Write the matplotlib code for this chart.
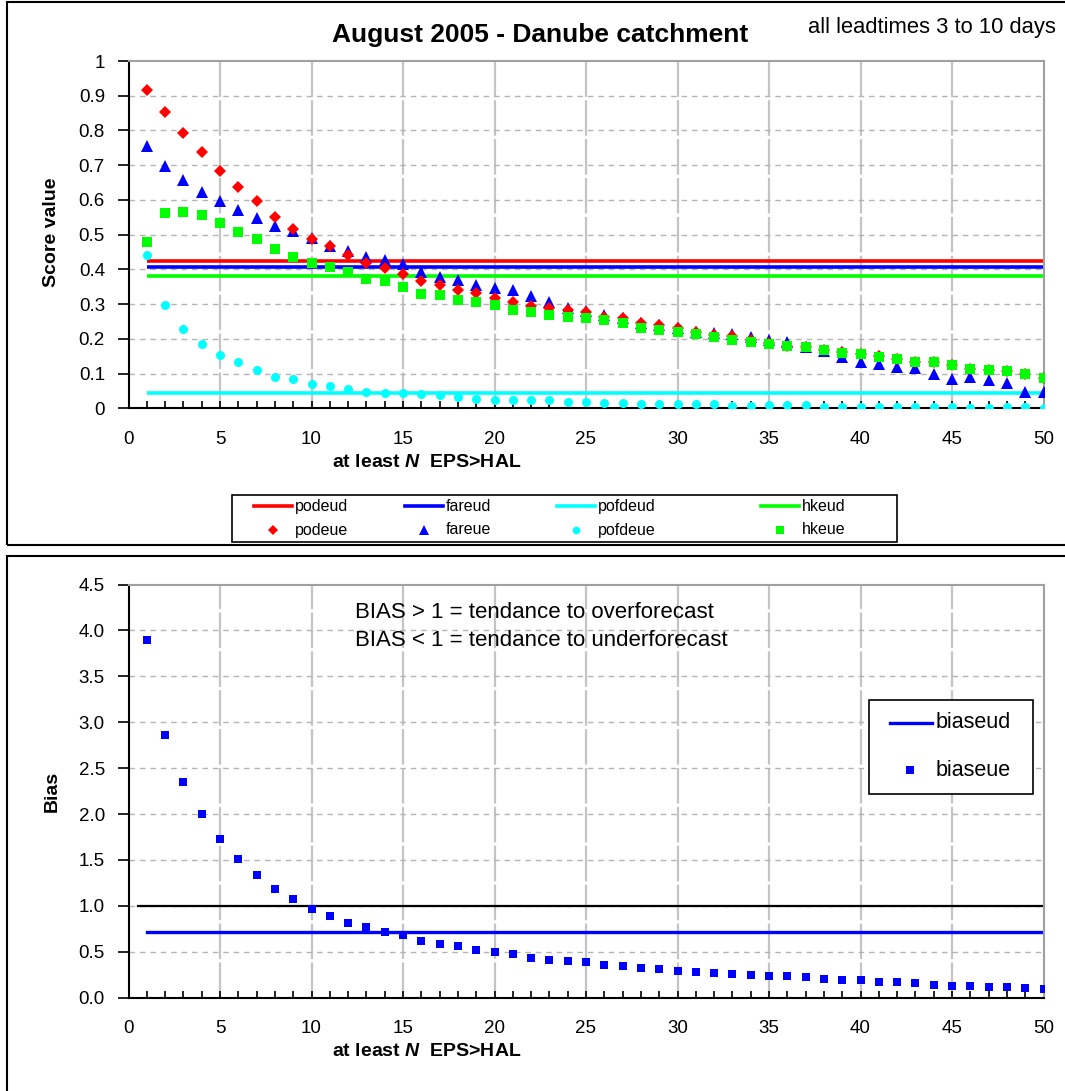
#!/usr/bin/env python3
"""
Danube catchment EPS verification scores (August 2005)
Dependencies: matplotlib, numpy
"""

import matplotlib
matplotlib.use("Agg")
import matplotlib.pyplot as plt
import numpy as np
from matplotlib.lines import Line2D
from matplotlib.patches import Rectangle
from matplotlib.ticker import MultipleLocator, FuncFormatter

# ---- data -------------------------------------------------------------
n_members = np.arange(1, 51)

podeue = [0.917, 0.853, 0.793, 0.739, 0.684, 0.636, 0.597, 0.552, 0.516, 0.488,
          0.468, 0.442, 0.418, 0.404, 0.386, 0.367, 0.354, 0.341, 0.331, 0.318,
          0.307, 0.295, 0.288, 0.283, 0.276, 0.264, 0.259, 0.245, 0.240, 0.232,
          0.221, 0.211, 0.207, 0.197, 0.189, 0.180, 0.176, 0.169, 0.162, 0.157,
          0.150, 0.142, 0.134, 0.132, 0.124, 0.113, 0.110, 0.107, 0.098, 0.086]
fareue = [0.756, 0.698, 0.658, 0.624, 0.598, 0.572, 0.549, 0.525, 0.510, 0.490,
          0.468, 0.452, 0.437, 0.426, 0.416, 0.393, 0.378, 0.368, 0.355, 0.345,
          0.341, 0.322, 0.305, 0.289, 0.281, 0.270, 0.259, 0.245, 0.240, 0.232,
          0.221, 0.218, 0.214, 0.205, 0.197, 0.190, 0.176, 0.166, 0.149, 0.134,
          0.128, 0.118, 0.115, 0.099, 0.085, 0.089, 0.082, 0.074, 0.046, 0.046]
pofdeue = [0.441, 0.296, 0.228, 0.184, 0.154, 0.132, 0.110, 0.091, 0.084, 0.071,
           0.063, 0.055, 0.048, 0.043, 0.043, 0.040, 0.037, 0.032, 0.028, 0.024,
           0.024, 0.024, 0.024, 0.019, 0.019, 0.015, 0.015, 0.012, 0.012, 0.012,
           0.012, 0.012, 0.008, 0.008, 0.009, 0.009, 0.009, 0.005, 0.005, 0.005,
           0.005, 0.005, 0.005, 0.005, 0.005, 0.002, 0.002, 0.003, 0.003, 0.002]
hkeue = [0.479, 0.561, 0.565, 0.557, 0.533, 0.509, 0.488, 0.460, 0.436, 0.417,
         0.408, 0.393, 0.373, 0.366, 0.348, 0.329, 0.325, 0.312, 0.305, 0.296,
         0.284, 0.277, 0.269, 0.264, 0.261, 0.253, 0.245, 0.232, 0.226, 0.221,
         0.213, 0.205, 0.197, 0.192, 0.185, 0.178, 0.176, 0.168, 0.160, 0.157,
         0.149, 0.141, 0.132, 0.132, 0.124, 0.112, 0.110, 0.107, 0.098, 0.088]

# deterministic (EUD) scores, constant over N
podeud = 0.425
fareud = 0.408
pofdeud = 0.043
hkeud = 0.380

biaseue = [3.896, 2.865, 2.349, 2.001, 1.728, 1.514, 1.340, 1.184, 1.075, 0.966,
           0.890, 0.817, 0.770, 0.712, 0.683, 0.621, 0.588, 0.559, 0.515, 0.493,
           0.475, 0.431, 0.413, 0.402, 0.384, 0.355, 0.348, 0.326, 0.308, 0.293,
           0.275, 0.264, 0.261, 0.250, 0.236, 0.236, 0.221, 0.203, 0.192, 0.192,
           0.174, 0.174, 0.156, 0.141, 0.127, 0.127, 0.112, 0.112, 0.105, 0.098]
biaseud = 0.72
bias_ref = 1.0

W, H = 1065, 1091
FONT = "Liberation Sans"

plt.rcParams["font.family"] = FONT
plt.rcParams["mathtext.fontset"] = "custom"
plt.rcParams["mathtext.it"] = FONT + ":italic:bold"
plt.rcParams["mathtext.rm"] = FONT + ":bold"


def fx(x):
    return x / W


def fy(y):
    return 1 - y / H


def style_axes(ax, ymax, ystep, yfmt):
    ax.set_xlim(0, 50)
    ax.set_ylim(0, ymax)
    ax.xaxis.set_major_locator(MultipleLocator(5))
    ax.xaxis.set_minor_locator(MultipleLocator(1))
    ax.yaxis.set_major_locator(MultipleLocator(ystep))
    ax.yaxis.set_major_formatter(FuncFormatter(yfmt))
    ax.tick_params(axis="x", which="both", direction="in", length=5, width=1.2,
                   pad=16, labelsize=13.5, top=False)
    ax.tick_params(axis="y", direction="out", length=8, width=1.2, pad=9,
                   labelsize=13.5, right=False)

    # vertical grid every 5, horizontal grid at each y tick
    for xv in np.arange(5, 50, 5):
        ax.axvline(xv, color="#c4c4c4", lw=1.6, ls=(0, (16, 1.5)), zorder=0)
    for yv in np.arange(ystep, ymax - 1e-9, ystep):
        ax.axhline(yv, color="#b4b4b4", lw=1.0, ls=(0, (4, 3.5)), zorder=0)

    for side in ("left", "bottom"):
        ax.spines[side].set_color("black")
        ax.spines[side].set_linewidth(1.5)
    for side in ("top", "right"):
        ax.spines[side].set_color("#a0a0a0")
        ax.spines[side].set_linewidth(1.5)


def create_figure():
    fig = plt.figure(figsize=(W / 100, H / 100), dpi=100)

    # outer frames around each panel
    for (y0, y1) in [(2, 545), (556, 1100)]:
        fig.add_artist(Rectangle((fx(7), fy(y1)), fx(1080) - fx(7), fy(y0) - fy(y1),
                                 transform=fig.transFigure, fill=False,
                                 edgecolor="black", lw=1.5))

    # ---------------- top panel: scores ----------------
    ax1 = fig.add_axes([fx(128.5), fy(408.3), fx(1043.5) - fx(128.5), fy(61) - fy(408.3)])
    style_axes(ax1, 1.0, 0.1, lambda v, p: f"{v:g}")

    score_lines = [(podeud, "#ff0000"), (fareud, "#0000ff"),
                   (pofdeud, "#00ffff"), (hkeud, "#00ff00")]
    for val, col in score_lines:
        ax1.plot([1, 50], [val, val], color=col, lw=2.6, solid_capstyle="butt", zorder=2)

    ax1.plot(n_members, fareue, ls="none", marker="^", ms=8, color="#0000ff", mew=0, zorder=3)
    ax1.plot(n_members, podeue, ls="none", marker="D", ms=6.5, color="#ff0000", mew=0, zorder=3)
    ax1.plot(n_members, pofdeue, ls="none", marker="o", ms=6.5, color="#00ffff", mew=0, zorder=3)
    ax1.plot(n_members, hkeue, ls="none", marker="s", ms=6.5, color="#00ff00", mew=0, zorder=3)

    fig.text(fx(540), fy(35), "August 2005 - Danube catchment", ha="center", va="center",
             fontsize=19, fontweight="bold")
    fig.text(fx(808), fy(27), "all leadtimes 3 to 10 days", ha="left", va="center",
             fontsize=15.8)
    fig.text(fx(52), fy(232), "Score value", rotation=90, ha="center", va="center",
             fontsize=14, fontweight="bold")
    fig.text(fx(427), fy(463), "at least $N$  EPS>HAL", ha="center", va="center",
             fontsize=14, fontweight="bold")

    # legend box below the top panel
    fig.add_artist(Rectangle((fx(232), fy(542)), fx(897) - fx(232), fy(495) - fy(542),
                             transform=fig.transFigure, facecolor="white",
                             edgecolor="black", lw=1.2))
    col_x = [254, 405, 557, 761]
    names_d = ["podeud", "fareud", "pofdeud", "hkeud"]
    names_e = ["podeue", "fareue", "pofdeue", "hkeue"]
    markers = [("D", 6), ("^", 8), ("o", 6.5), ("s", 6.5)]
    for i, (x0, (_, col)) in enumerate(zip(col_x, score_lines)):
        fig.add_artist(Line2D([fx(x0), fx(x0 + 38)], [fy(506), fy(506)],
                              transform=fig.transFigure, color=col, lw=2.6))
        fig.text(fx(x0 + 41), fy(506), names_d[i], ha="left", va="center", fontsize=11.5)
        m, ms = markers[i]
        fig.add_artist(Line2D([fx(x0 + 19)], [fy(530)], transform=fig.transFigure,
                              ls="none", marker=m, ms=ms * 0.85, color=col, mew=0))
        fig.text(fx(x0 + 41), fy(530), names_e[i], ha="left", va="center", fontsize=11.5)

    # ---------------- bottom panel: bias ----------------
    ax2 = fig.add_axes([fx(128.5), fy(997.7), fx(1043.5) - fx(128.5), fy(584.5) - fy(997.7)])
    style_axes(ax2, 4.5, 0.5, lambda v, p: f"{v:.1f}")

    ax2.plot([0.5, 50], [bias_ref, bias_ref], color="black", lw=1.6, zorder=2)
    ax2.plot([1, 50], [biaseud, biaseud], color="#0000ff", lw=2.4, zorder=2)
    ax2.plot(n_members, biaseue, ls="none", marker="s", ms=6, color="#0000ff", mew=0, zorder=3)

    fig.text(fx(52), fy(791), "Bias", rotation=90, ha="center", va="center",
             fontsize=14, fontweight="bold")
    fig.text(fx(427), fy(1052), "at least $N$  EPS>HAL", ha="center", va="center",
             fontsize=14, fontweight="bold")
    fig.text(fx(355), fy(613), "BIAS > 1 = tendance to overforecast", ha="left",
             va="center", fontsize=16)
    fig.text(fx(355), fy(641), "BIAS < 1 = tendance to underforecast", ha="left",
             va="center", fontsize=16)

    fig.add_artist(Rectangle((fx(869), fy(794)), fx(1033) - fx(869), fy(700) - fy(794),
                             transform=fig.transFigure, facecolor="white",
                             edgecolor="black", lw=1.2))
    fig.add_artist(Line2D([fx(890), fx(932)], [fy(723), fy(723)],
                          transform=fig.transFigure, color="#0000ff", lw=2.4))
    fig.text(fx(936), fy(723), "biaseud", ha="left", va="center", fontsize=15.5)
    fig.add_artist(Line2D([fx(910)], [fy(770)], transform=fig.transFigure,
                          ls="none", marker="s", ms=5.5, color="#0000ff", mew=0))
    fig.text(fx(936), fy(770), "biaseue", ha="left", va="center", fontsize=15.5)

    fig.savefig("out.png", dpi=100, facecolor="white")
    plt.close(fig)


if __name__ == "__main__":
    create_figure()
